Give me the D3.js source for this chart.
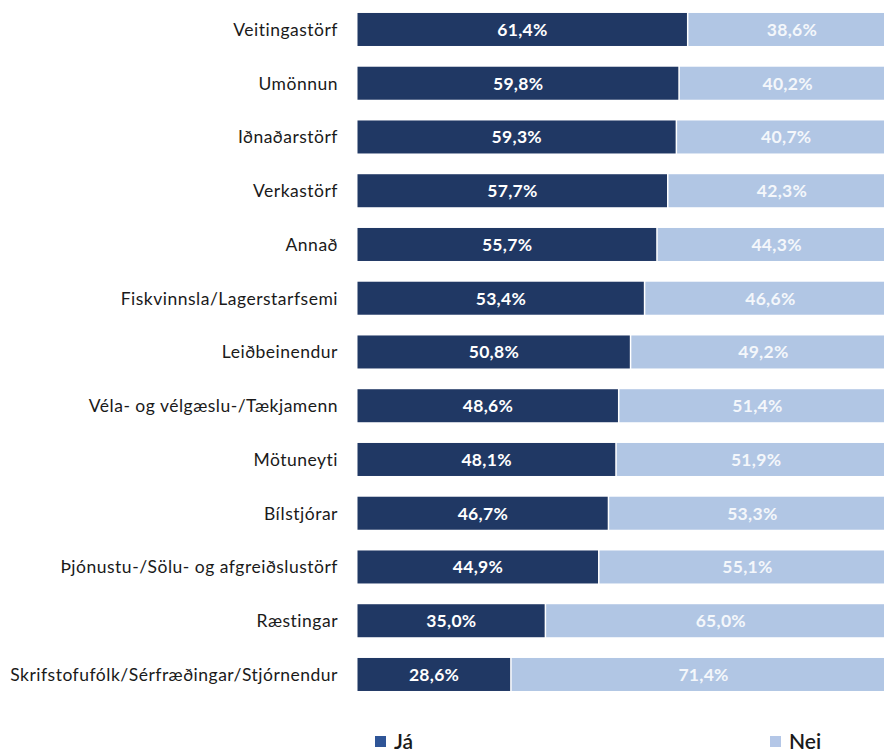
<!DOCTYPE html>
<html>
<head>
<meta charset="utf-8">
<script src="https://cdn.jsdelivr.net/npm/d3@7"></script>
<style>
  html, body { margin: 0; padding: 0; background: #ffffff; }
  svg { display: block; }
</style>
</head>
<body>
<svg id="chart" width="884" height="754"></svg>
<script>
const categories = [
  "Veitingastörf",
  "Umönnun",
  "Iðnaðarstörf",
  "Verkastörf",
  "Annað",
  "Fiskvinnsla/Lagerstarfsemi",
  "Leiðbeinendur",
  "Véla- og vélgæslu-/Tækjamenn",
  "Mötuneyti",
  "Bílstjórar",
  "Þjónustu-/Sölu- og afgreiðslustörf",
  "Ræstingar",
  "Skrifstofufólk/Sérfræðingar/Stjórnendur"
];
const jaValues  = [61.4, 59.8, 59.3, 57.7, 55.7, 53.4, 50.8, 48.6, 48.1, 46.7, 44.9, 35.0, 28.6];
const neiValues = [38.6, 40.2, 40.7, 42.3, 44.3, 46.6, 49.2, 51.4, 51.9, 53.3, 55.1, 65.0, 71.4];
const seriesNames = ["Já", "Nei"];

const colors = { "Já": "#203864", "Nei": "#B1C6E4" };
const legendColors = { "Já": "#2F5597", "Nei": "#B4C7E7" };

const svg = d3.select("#chart");
const font = "Lato, 'Open Sans', sans-serif";

const x = d3.scaleLinear().domain([0, 100]).range([356, 895]);
const y = d3.scaleBand().domain(categories).range([2.6, 701.35])
  .paddingInner(0.386).paddingOuter(0.193);

const rows = categories.map((c, i) => ({ cat: c, ja: jaValues[i], nei: neiValues[i] }));
const stack = d3.stack().keys(["ja", "nei"]);
const stacked = stack(rows);
const fmt = v => d3.format(".1f")(v).replace(".", ",") + "%";

stacked.forEach((layer, li) => {
  const name = seriesNames[li];
  const g = svg.append("g");
  g.selectAll("rect").data(layer).join("rect")
    .attr("x", d => x(d[0]) + 1.5)
    .attr("y", d => y(d.data.cat))
    .attr("width", d => x(d[1]) - x(d[0]) - 1.5)
    .attr("height", y.bandwidth())
    .attr("fill", colors[name]);
  g.selectAll("text").data(layer).join("text")
    .attr("x", d => (x(d[0]) + x(d[1])) / 2 + 1)
    .attr("y", d => y(d.data.cat) + y.bandwidth() / 2)
    .attr("dy", "0.36em")
    .attr("text-anchor", "middle")
    .attr("font-family", font)
    .attr("font-weight", "bold")
    .attr("font-size", 17.5)
    .attr("letter-spacing", 0.3)
    .attr("fill", li === 0 ? "#ffffff" : "#F4F7FB")
    .text(d => fmt(d[1] - d[0]));
});

// category axis labels
const yAxis = d3.axisLeft(y).tickSize(0).tickPadding(0);
const ax = svg.append("g").attr("transform", "translate(338,0)").call(yAxis);
ax.select(".domain").remove();
ax.selectAll("text")
  .attr("font-family", font)
  .attr("font-size", 17.5)
  .attr("letter-spacing", 0.5)
  .attr("fill", "#1a1a1a")
  .attr("dy", "0.36em");

// legend
const legendX = { "Já": 375, "Nei": 770 };
const lg = svg.append("g");
seriesNames.forEach(n => {
  lg.append("rect")
    .attr("x", legendX[n]).attr("y", 736)
    .attr("width", 11).attr("height", 11)
    .attr("fill", legendColors[n]);
  lg.append("text")
    .attr("x", legendX[n] + 19).attr("y", 749)
    .attr("font-family", font)
    .attr("font-size", 21)
    .attr("font-weight", 600)
    .attr("fill", "#1a1a1a")
    .text(n);
});
</script>
</body>
</html>
